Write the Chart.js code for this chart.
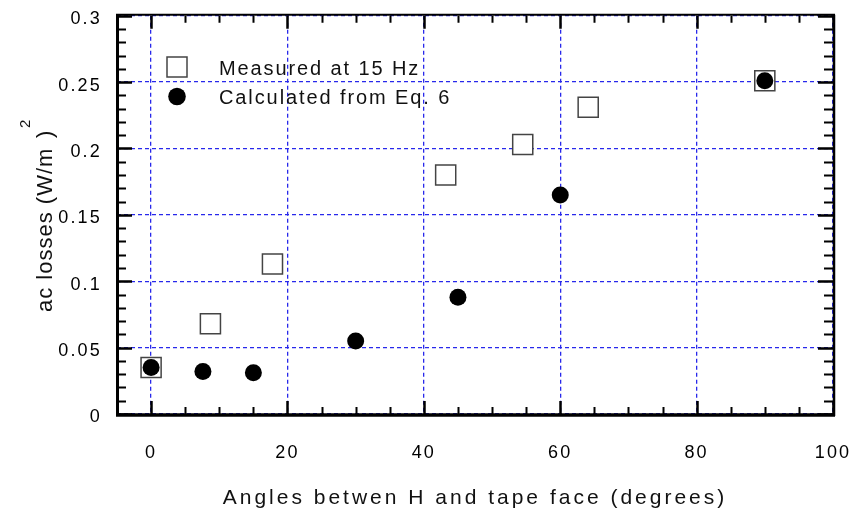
<!DOCTYPE html>
<html><head><meta charset="utf-8">
<script src="https://cdn.jsdelivr.net/npm/chart.js@4"></script>
<style>html,body{margin:0;padding:0;background:#fff}#wrap{width:859px;height:516px;position:relative}</style>
</head><body><div id="wrap"><canvas id="c"></canvas></div>
<script>
// ---- data ----
const measuredAngles   = [0, 8.7, 17.8, 43.2, 54.5, 64.1, 90];
const measuredLosses   = [0.035, 0.068, 0.113, 0.180, 0.203, 0.231, 0.251];
const calculatedAngles = [0, 7.6, 15, 30, 45, 60, 90];
const calculatedLosses = [0.035, 0.032, 0.031, 0.055, 0.088, 0.165, 0.251];
const xTickValues = [0, 20, 40, 60, 80, 100];
const xTickLabels = ['0', '20', '40', '60', '80', '100'];
const yTickValues = [0, 0.05, 0.1, 0.15, 0.2, 0.25, 0.3];
const yTickLabels = ['0', '0.05', '0.1', '0.15', '0.2', '0.25', '0.3'];
const seriesNames = ['Measured at 15 Hz', 'Calculated from Eq. 6'];
const xTitle = 'Angles betwen H and tape face (degrees)';
const yTitleMain = 'ac losses (W/m';
const yTitleClose = ')';
const yTitleSup = '2';

const FONT = "'Liberation Sans', Arial, Helvetica, sans-serif";
const GRID_BLUE = 'rgb(40,40,235)';

const framePlugin = {
  id: 'frame',
  beforeDraw(chart) { chart.ctx.letterSpacing = '2.2px'; },
  afterDraw(chart) {
    const { ctx, chartArea: a, scales: { x, y } } = chart;
    ctx.save();
    ctx.strokeStyle = '#000';
    ctx.lineCap = 'butt';
    // x ticks (bottom & top), inward
    for (let v = -5; v <= 100.001; v += 5) {
      const px = Math.round(x.getPixelForValue(v)) + 0.5;
      const major = xTickValues.includes(Math.round(v));
      const len = major ? 13 : 7;
      ctx.lineWidth = major ? 2.5 : 2;
      ctx.beginPath();
      ctx.moveTo(px, a.bottom); ctx.lineTo(px, a.bottom - len);
      ctx.moveTo(px, a.top); ctx.lineTo(px, a.top + len);
      ctx.stroke();
    }
    // y ticks (left & right), inward
    for (let i = 0; i <= 30; i++) {
      const v = i / 100;
      const py = Math.round(y.getPixelForValue(v)) + 0.5;
      const major = i % 5 === 0;
      const len = major ? 15 : 9;
      ctx.lineWidth = major ? 2.5 : 2;
      ctx.beginPath();
      ctx.moveTo(a.left, py); ctx.lineTo(a.left + len, py);
      ctx.moveTo(a.right, py); ctx.lineTo(a.right - len, py);
      ctx.stroke();
    }
    // frame
    ctx.lineWidth = 3;
    ctx.beginPath(); ctx.moveTo(a.left + 0.5, a.top - 1); ctx.lineTo(a.left + 0.5, a.bottom + 2); ctx.stroke();
    ctx.lineWidth = 3.5;
    ctx.beginPath(); ctx.moveTo(a.left - 1, a.bottom + 1); ctx.lineTo(a.right + 2, a.bottom + 1); ctx.stroke();
    ctx.lineWidth = 2;
    ctx.beginPath(); ctx.moveTo(a.left - 1, a.top - 1); ctx.lineTo(a.right + 2, a.top - 1); ctx.stroke();
    ctx.lineWidth = 2.5;
    ctx.beginPath(); ctx.moveTo(a.right + 1, a.top - 1); ctx.lineTo(a.right + 1, a.bottom + 2); ctx.stroke();

    // legend
    ctx.lineWidth = 1.5;
    ctx.strokeStyle = '#444';
    ctx.fillStyle = '#fff';
    ctx.fillRect(167, 57, 20, 20);
    ctx.strokeRect(167, 57, 20, 20);
    ctx.fillStyle = '#000';
    ctx.beginPath(); ctx.arc(177, 96.5, 8.8, 0, Math.PI * 2); ctx.fill();
    ctx.font = '20px ' + FONT;
    ctx.letterSpacing = '1.9px';
    ctx.textAlign = 'left';
    ctx.textBaseline = 'alphabetic';
    ctx.fillStyle = '#111';
    ctx.fillText(seriesNames[0], 219, 75);
    ctx.fillText(seriesNames[1], 219, 103.5);

    // x title
    ctx.font = '21px ' + FONT;
    ctx.letterSpacing = '3px';
    ctx.textAlign = 'left';
    const w = ctx.measureText(xTitle).width;
    ctx.fillText(xTitle, (a.left + a.right) / 2 - w / 2, 504);

    // y title (rotated)
    ctx.save();
    ctx.translate(52, 312);
    ctx.rotate(-Math.PI / 2);
    ctx.font = '22px ' + FONT;
    ctx.letterSpacing = '1px';
    ctx.fillText(yTitleMain, 0, 0);
    ctx.fillText(yTitleClose, 174, 0);
    ctx.font = '15px ' + FONT;
    ctx.fillText(yTitleSup, 184, -22);
    ctx.restore();

    ctx.restore();
  }
};

new Chart(document.getElementById('c'), {
  type: 'scatter',
  data: {
    datasets: [
      {
        label: seriesNames[0],
        data: measuredAngles.map((v, i) => ({ x: v, y: measuredLosses[i] })),
        pointStyle: 'rect',
        pointRadius: 14.2,
        pointHoverRadius: 14.2,
        backgroundColor: '#fff',
        borderColor: '#444',
        borderWidth: 1.5,
        order: 2
      },
      {
        label: seriesNames[1],
        data: calculatedAngles.map((v, i) => ({ x: v, y: calculatedLosses[i] })),
        pointStyle: 'circle',
        pointRadius: 8.5,
        pointHoverRadius: 8.5,
        backgroundColor: '#000',
        borderColor: '#000',
        borderWidth: 0,
        order: 1
      }
    ]
  },
  options: {
    responsive: true,
    maintainAspectRatio: false,
    animation: false,
    events: [],
    layout: { padding: { left: 0, right: 26, top: 14, bottom: 0 } },
    plugins: { legend: { display: false }, tooltip: { enabled: false } },
    scales: {
      x: {
        type: 'linear',
        min: -5, max: 100,
        afterBuildTicks: s => { s.ticks = xTickValues.map(v => ({ value: v })); },
        afterFit: s => { s.height = 102; s.paddingLeft = 0; s.paddingRight = 0; },
        ticks: {
          callback: (v) => xTickLabels[xTickValues.indexOf(v)] ?? '',
          font: { family: FONT, size: 18 },
          color: '#000',
          padding: 28,
          maxRotation: 0,
          autoSkip: false
        },
        grid: { color: GRID_BLUE, lineWidth: 1.3, drawTicks: false },
        border: { display: false, dash: [4, 3] }
      },
      y: {
        type: 'linear',
        min: 0, max: 0.3,
        afterBuildTicks: s => { s.ticks = yTickValues.map(v => ({ value: v })); },
        afterFit: s => { s.width = 117; s.paddingTop = 0; s.paddingBottom = 0; },
        ticks: {
          callback: (v) => yTickLabels[yTickValues.indexOf(v)] ?? '',
          font: { family: FONT, size: 18 },
          color: '#000',
          padding: 15,
          labelOffset: 3.5,
          autoSkip: false
        },
        grid: { color: GRID_BLUE, lineWidth: 1.3, drawTicks: false },
        border: { display: false, dash: [4, 3] }
      }
    }
  },
  plugins: [framePlugin]
});
</script>
</body></html>
